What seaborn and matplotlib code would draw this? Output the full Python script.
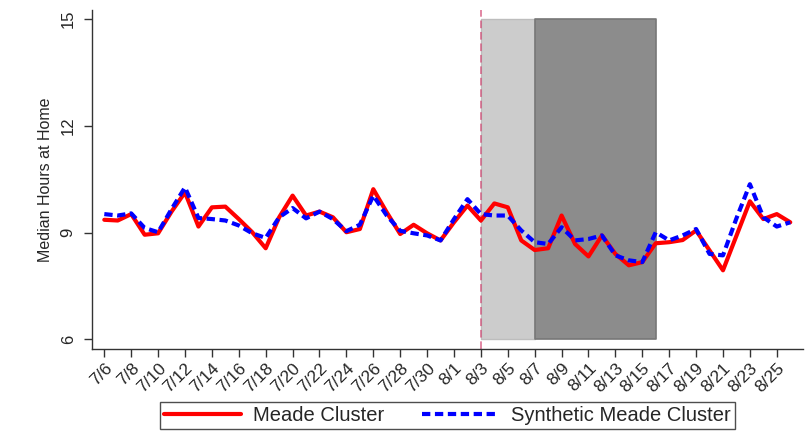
import numpy as np
import pandas as pd
import matplotlib
matplotlib.use("Agg")
import matplotlib.pyplot as plt
import seaborn as sns

# data (median hours at home, daily 7/6 - 8/26)
days = pd.date_range("2020-07-06", "2020-08-26", freq="D")
meade = [9.36, 9.34, 9.52, 8.94, 8.98, 9.59, 10.13, 9.17, 9.71, 9.73,
         9.38, 9.01, 8.56, 9.43, 10.04, 9.48, 9.59, 9.43, 9.01, 9.10,
         10.22, 9.57, 8.96, 9.22, 8.98, 8.78, 9.29, 9.76, 9.34, 9.82,
         9.71, 8.78, 8.51, 8.56, 9.48, 8.68, 8.33, 8.92, 8.40, 8.08,
         8.17, 8.70, 8.73, 8.79, 9.06, 8.50, 7.94, 8.91, 9.88, 9.38,
         9.52, 9.29]
synthetic = [9.52, 9.48, 9.54, 9.13, 9.01, 9.66, 10.27, 9.41, 9.38, 9.34,
             9.20, 8.98, 8.85, 9.43, 9.69, 9.40, 9.59, 9.38, 9.04, 9.22,
             10.04, 9.48, 9.05, 8.98, 8.92, 8.78, 9.38, 9.94, 9.52, 9.48,
             9.48, 9.06, 8.73, 8.68, 9.15, 8.78, 8.82, 8.92, 8.36, 8.22,
             8.17, 9.01, 8.78, 8.92, 9.10, 8.40, 8.36, 9.40, 10.36, 9.43,
             9.17, 9.29]
event_day = "2020-08-03"
light_span = ("2020-08-03", "2020-08-07")
dark_span = ("2020-08-07", "2020-08-16")
yticks = [6, 9, 12, 15]

labels = [f"{d.month}/{d.day}" for d in days]
df = pd.DataFrame({"t": np.arange(len(days)), "meade": meade, "synth": synthetic})


def pos(s):
    return days.get_loc(pd.Timestamp(s))


sns.set_style("ticks")
plt.rcParams["font.family"] = ["Liberation Sans", "DejaVu Sans"]

fig = plt.figure(figsize=(8.09, 4.45), dpi=100)
ax = fig.add_axes([0.1133, 0.2157, 0.8793, 0.762])

# shaded periods
ax.fill_between([pos(light_span[0]), pos(light_span[1])], 6, 15,
                color="#cccccc", edgecolor="#bdbdbd", lw=1, zorder=1)
ax.fill_between([pos(dark_span[0]), pos(dark_span[1])], 6, 15,
                color="#8c8c8c", edgecolor="#777777", lw=1.2, zorder=1)
ax.axvline(pos(event_day), color="#d0406e", lw=1.1, ls=(0, (5, 2.5)), alpha=0.8, zorder=2)

sns.lineplot(data=df, x="t", y="meade", color="#ff0000", lw=3.0,
             label="Meade Cluster", ax=ax, zorder=3)
sns.lineplot(data=df, x="t", y="synth", color="#0000ff", lw=3.0,
             dashes=False, label="Synthetic Meade Cluster", ax=ax, zorder=4)
ax.lines[-1].set_linestyle((0, (2.0, 1.1)))

ax.set_xlim(-0.94, 51.95)
ax.set_ylim(5.727, 15.26)
ax.set_xticks(np.arange(0, len(days), 2))
ax.set_xticklabels(labels[::2], rotation=45, ha="right", va="top",
                   rotation_mode="anchor", fontsize=12.5)
ax.set_yticks(yticks)
ax.set_yticklabels([str(v) for v in yticks], rotation=90, va="center", fontsize=12)
ax.tick_params(axis="both", length=5.5, width=1, color="#333333", pad=3)
ax.tick_params(axis="y", pad=6)
ax.set_xlabel("")
ax.set_ylabel("Median Hours at Home", fontsize=11.5)
ax.yaxis.set_label_coords(-0.055, 0.5)
for s in ["top", "right"]:
    ax.spines[s].set_visible(False)
for s in ["left", "bottom"]:
    ax.spines[s].set_color("#333333")
    ax.spines[s].set_linewidth(1)

h, l = ax.get_legend_handles_labels()
ax.get_legend().remove()
leg = fig.legend(h, l, loc="center", bbox_to_anchor=(0.553, 0.066), ncol=2,
                 fontsize=14.5, frameon=True, fancybox=False, edgecolor="#222222",
                 handlelength=3.83, handletextpad=0.6, columnspacing=1.84,
                 borderpad=0.2)
leg.get_frame().set_linewidth(1)

fig.savefig("out.png", dpi=100)
